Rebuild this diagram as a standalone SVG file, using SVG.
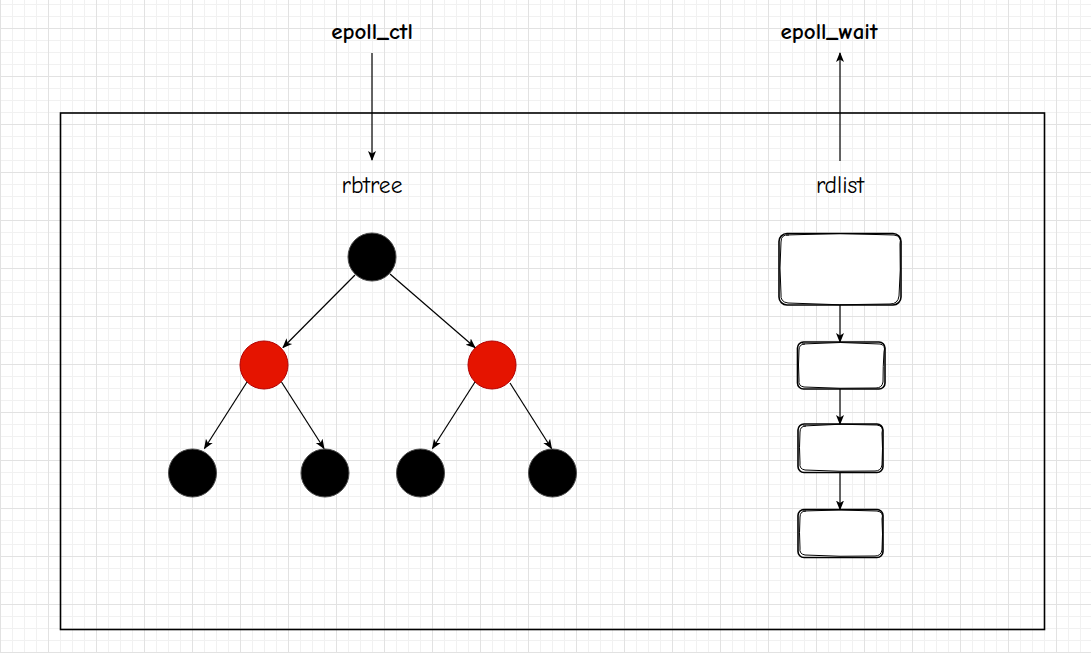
<svg xmlns="http://www.w3.org/2000/svg" width="1091" height="653" viewBox="0 0 1091 653">
  <defs>
    <pattern id="grid" x="0" y="28" width="48" height="48" patternUnits="userSpaceOnUse">
      <path d="M12.5 0V48M24.5 0V48M36.5 0V48M0 12.5H48M0 24.5H48M0 36.5H48" stroke="#f1f1f1" stroke-width="1" fill="none"/>
      <path d="M0.5 0V48M0 0.5H48" stroke="#e2e2e2" stroke-width="1" fill="none"/>
    </pattern>
    <marker id="arr" viewBox="0 0 10 10" refX="9" refY="5" markerWidth="10" markerHeight="10" markerUnits="userSpaceOnUse" orient="auto">
      <path d="M0 1 L10 5 L0 9 L2.5 5 Z" fill="#000"/>
    </marker>
    <style>
      .lbl { font-family: "Comic Neue", "Liberation Sans", sans-serif; fill: #000; text-anchor: middle; }
      .b { font-weight: bold; font-size: 23px; }
      .n { font-size: 23.5px; }
      .edge { stroke: #000; stroke-width: 1.2; fill: none; marker-end: url(#arr); }
      .blk { fill: #000; stroke: #4a4a4a; stroke-width: 1; }
      .red { fill: #e51400; stroke: #b20000; stroke-width: 1; }
      .box { fill: #fff; stroke: #000; stroke-width: 1.6; }
      .box2 { fill: none; stroke: #000; stroke-width: 1; }
    </style>
  </defs>
  <rect width="1091" height="653" fill="#fff"/>
  <rect width="1091" height="653" fill="url(#grid)"/>

  <g id="container">
    <rect x="60.5" y="113" width="984" height="516.5" fill="none" stroke="#000" stroke-width="1.6"/>
  </g>

  <g id="label-epoll-ctl"><text class="lbl b" x="372" y="39">epoll_ctl</text></g>
  <g id="label-epoll-wait"><text class="lbl b" x="829" y="39">epoll_wait</text></g>
  <g id="label-rbtree"><text class="lbl n" x="372" y="193">rbtree</text></g>
  <g id="label-rdlist"><text class="lbl n" x="840" y="193">rdlist</text></g>

  <g id="node-root"><circle class="blk" cx="372" cy="257" r="24"/></g>
  <g id="node-red-left"><circle class="red" cx="264" cy="365" r="24"/></g>
  <g id="node-red-right"><circle class="red" cx="492" cy="365" r="24"/></g>
  <g id="node-leaf-1"><circle class="blk" cx="192.5" cy="473" r="24"/></g>
  <g id="node-leaf-2"><circle class="blk" cx="325" cy="473" r="24"/></g>
  <g id="node-leaf-3"><circle class="blk" cx="420.5" cy="473" r="24"/></g>
  <g id="node-leaf-4"><circle class="blk" cx="552.5" cy="473" r="24"/></g>

  <g id="list-1">
    <rect class="box" x="779" y="233.5" width="122" height="71.5" rx="8"/>
    <path class="box2" d="M786 235 Q840 232 894 235 Q902 236 900 244 Q901 270 899 296 Q898 304 890 304 Q840 306 788 303 Q780 302 781 294 Q779 268 781 242 Q781 234 789 235"/>
  </g>
  <g id="list-2">
    <rect class="box" x="797.5" y="342" width="87.5" height="47" rx="6"/>
    <path class="box2" d="M802 344 Q840 341 880 344 Q886 345 884 352 Q883 366 883 382 Q882 388 876 388 Q840 389 804 387 Q798 386 799 380 Q798 365 799 350 Q799 344 805 344"/>
  </g>
  <g id="list-3">
    <rect class="box" x="798" y="424" width="85" height="48.5" rx="6"/>
    <path class="box2" d="M803 426 Q840 423 877 425 Q884 426 882 433 Q883 448 882 465 Q881 471 875 471 Q840 472 805 470 Q799 469 800 463 Q799 448 800 432 Q800 426 806 426"/>
  </g>
  <g id="list-4">
    <rect class="box" x="798" y="509.5" width="85" height="48" rx="6"/>
    <path class="box2" d="M803 511 Q840 509 877 511 Q884 512 882 519 Q883 534 882 550 Q881 556 875 556 Q840 557 805 555 Q799 554 800 548 Q799 533 800 517 Q800 511 806 511"/>
  </g>

  <g id="connectors">
    <path class="edge" d="M372 53 V160"/>
    <path class="edge" d="M840 161 V53"/>
    <path class="edge" d="M355 275 L283 347.5"/>
    <path class="edge" d="M390 274 L475 347.5"/>
    <path class="edge" d="M247 382 L204.5 448.5"/>
    <path class="edge" d="M281.5 382 L324 448.5"/>
    <path class="edge" d="M475 382 L432.5 448.5"/>
    <path class="edge" d="M510 383 L551.5 448.5"/>
    <path class="edge" d="M840 305 V342"/>
    <path class="edge" d="M840 389 V424"/>
    <path class="edge" d="M840 472.5 V509.5"/>
  </g>
</svg>
